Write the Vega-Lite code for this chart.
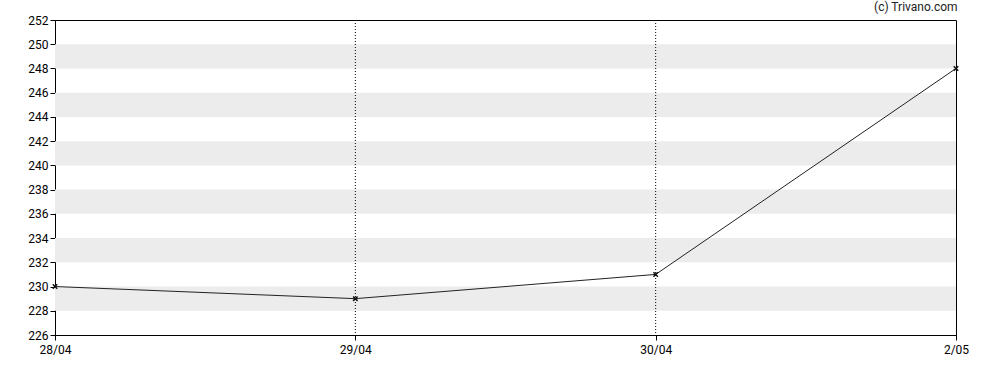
{
  "$schema": "https://vega.github.io/schema/vega-lite/v6.json",
  "width": 901,
  "height": 315,
  "autosize": {"type": "none"},
  "padding": {"left": 55, "top": 20, "right": 32, "bottom": 35},
  "background": "white",
  "title": {"text": "(c) Trivano.com", "anchor": "end", "orient": "top", "fontSize": 12, "fontWeight": "normal", "font": "Roboto", "color": "#222", "offset": 0, "dx": -11},
  "config": {
    "view": {"stroke": "black", "strokeWidth": 1},
    "axis": {"grid": false, "domainColor": "black", "tickColor": "black", "labelColor": "black", "labelFont": "Roboto", "labelFontSize": 12, "tickSize": 5, "title": null, "labelOverlap": false, "labelBound": false, "labelFlush": false}
  },
  "datasets": {
    "prices": [
      {"date": "28/04", "price": 230},
      {"date": "29/04", "price": 229},
      {"date": "30/04", "price": 231},
      {"date": "2/05", "price": 248}
    ],
    "bands": [
      {"lo": 228, "hi": 230},
      {"lo": 232, "hi": 234},
      {"lo": 236, "hi": 238},
      {"lo": 240, "hi": 242},
      {"lo": 244, "hi": 246},
      {"lo": 248, "hi": 250}
    ],
    "vlines": [{"date": "29/04"}, {"date": "30/04"}]
  },
  "layer": [
    {
      "data": {"name": "bands"},
      "mark": {"type": "rect", "color": "#ececec"},
      "encoding": {
        "y": {"field": "lo", "type": "quantitative", "scale": {"domain": [226, 252], "zero": false, "nice": false}, "axis": {"values": [226,228,230,232,234,236,238,240,242,244,246,248,250,252], "labelPadding": 2}},
        "y2": {"field": "hi"}
      }
    },
    {
      "data": {"name": "vlines"},
      "mark": {"type": "rule", "color": "black", "strokeDash": [1, 2], "strokeWidth": 1},
      "encoding": {
        "x": {"field": "date", "type": "ordinal", "sort": ["28/04", "29/04", "30/04", "2/05"], "scale": {"type": "point", "padding": 0, "domain": ["28/04", "29/04", "30/04", "2/05"]}, "axis": {"labelAngle": 0, "labelAlign": "center", "labelPadding": 4}}
      }
    },
    {
      "data": {"name": "prices"},
      "mark": {"type": "line", "color": "#222", "strokeWidth": 1},
      "encoding": {
        "x": {"field": "date", "type": "ordinal", "sort": ["28/04", "29/04", "30/04", "2/05"], "scale": {"type": "point", "padding": 0, "domain": ["28/04", "29/04", "30/04", "2/05"]}, "axis": {"labelAngle": 0, "labelAlign": "center", "labelPadding": 4}},
        "y": {"field": "price", "type": "quantitative", "scale": {"domain": [226, 252], "zero": false, "nice": false}, "axis": {"values": [226,228,230,232,234,236,238,240,242,244,246,248,250,252], "labelPadding": 2}}
      }
    },
    {
      "data": {"name": "prices"},
      "mark": {"type": "point", "shape": "M-1,-1L1,1M-1,1L1,-1", "size": 20, "stroke": "#111", "strokeWidth": 1.5, "filled": false, "opacity": 1},
      "encoding": {
        "x": {"field": "date", "type": "ordinal", "sort": ["28/04", "29/04", "30/04", "2/05"], "axis": {"labelAngle": 0, "labelAlign": "center", "labelPadding": 4}},
        "y": {"field": "price", "type": "quantitative", "axis": {"values": [226,228,230,232,234,236,238,240,242,244,246,248,250,252], "labelPadding": 2}}
      }
    }
  ]
}
